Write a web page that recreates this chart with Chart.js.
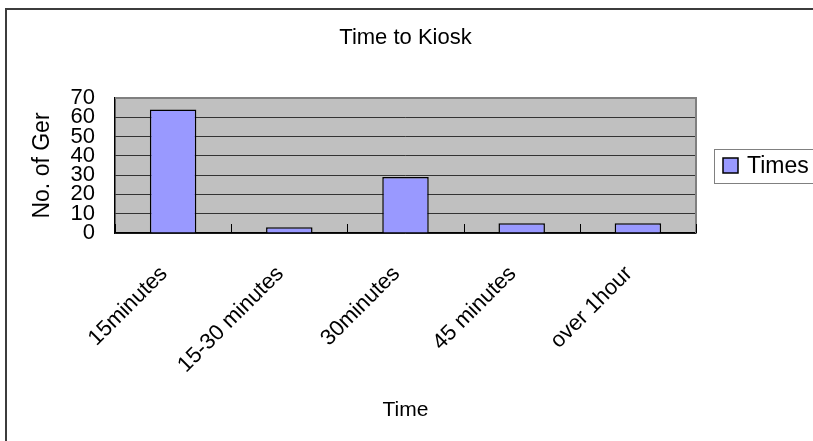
<!DOCTYPE html>
<html>
<head>
<meta charset="utf-8">
<title>Time to Kiosk</title>
<script src="https://cdn.jsdelivr.net/npm/chart.js@4/dist/chart.umd.min.js"></script>
<style>
  html, body { margin: 0; padding: 0; background: #fff; overflow: hidden; }
  #frame {
    position: absolute; left: 5px; top: 8px; width: 900px; height: 500px;
    border-left: 2px solid #3c3c3c; border-top: 2px solid #3c3c3c;
  }
  #wrap { position: absolute; left: 0; top: 0; width: 813px; height: 441px; }
</style>
</head>
<body>
<div id="frame"></div>
<div id="wrap"><canvas id="chart" width="813" height="441"></canvas></div>
<script>
// Travel time from each ger to the kiosk
const categories = ['15minutes', '15-30 minutes', '30minutes', '45 minutes', 'over 1hour'];
const times = [64, 3, 29, 5, 5];
const yTicks = [0, 10, 20, 30, 40, 50, 60, 70];

const FONT = '"Liberation Sans", Arial, sans-serif';

// Grey plot background, grey top/right edge, inside tick marks and boxed legend
const excelStyle = {
  id: 'excelStyle',
  beforeDraw(chart) {
    const { ctx, chartArea: a } = chart;
    ctx.save();
    ctx.fillStyle = '#c0c0c0';
    ctx.fillRect(a.left, a.top, a.width, a.height);
    ctx.restore();
  },
  afterDatasetsDraw(chart) {
    const { ctx, chartArea: a } = chart;
    const x = chart.scales.x;
    ctx.save();
    ctx.strokeStyle = '#808080';
    ctx.lineWidth = 2;
    ctx.beginPath();
    ctx.moveTo(a.left, a.top);
    ctx.lineTo(a.right, a.top);
    ctx.lineTo(a.right, a.bottom);
    ctx.stroke();
    ctx.strokeStyle = '#000';
    ctx.lineWidth = 1;
    ctx.beginPath();
    for (let i = 0; i <= categories.length; i++) {
      const px = Math.round(x.getPixelForValue(i - 0.5)) + 0.5;
      ctx.moveTo(px, a.bottom);
      ctx.lineTo(px, a.bottom - 9);
    }
    ctx.stroke();
    ctx.restore();
  },
  afterDraw(chart) {
    const { ctx, chartArea: a } = chart;
    const ds = chart.data.datasets[0];
    const x0 = Math.round(a.right + 18);
    const yc = Math.round((a.top + a.bottom) / 2);
    const h = 34;
    ctx.save();
    ctx.strokeStyle = '#808080';
    ctx.lineWidth = 1;
    ctx.strokeRect(x0 + 0.5, yc - h / 2 + 0.5, 140, h);
    ctx.fillStyle = ds.backgroundColor;
    ctx.fillRect(x0 + 9, yc - 8, 15, 15);
    ctx.strokeStyle = '#000';
    ctx.lineWidth = 1.5;
    ctx.strokeRect(x0 + 9, yc - 8, 15, 15);
    ctx.fillStyle = '#000';
    ctx.font = '23px ' + FONT;
    ctx.textBaseline = 'middle';
    ctx.textAlign = 'left';
    ctx.fillText(ds.label, x0 + 33, yc + 1);
    ctx.restore();
  }
};

new Chart(document.getElementById('chart'), {
  type: 'bar',
  data: {
    labels: categories,
    datasets: [{
      label: 'Times',
      data: times,
      backgroundColor: '#9999ff',
      borderColor: '#000',
      borderWidth: 1.5,
      borderSkipped: 'bottom',
      categoryPercentage: 1,
      barPercentage: 0.4
    }]
  },
  options: {
    responsive: false,
    animation: false,
    devicePixelRatio: 1,
    layout: { padding: { top: 12, left: 20, right: 117, bottom: 10 } },
    plugins: {
      legend: { display: false },
      tooltip: { enabled: false },
      title: {
        display: true,
        fullSize: false,
        text: 'Time to Kiosk',
        color: '#000',
        font: { family: FONT, size: 22, weight: 'normal' },
        padding: { top: 13, bottom: 46.6 }
      }
    },
    scales: {
      x: {
        offset: true,
        grid: { display: false },
        border: { display: true, color: '#000', width: 1.5 },
        ticks: {
          color: '#000',
          font: { family: FONT, size: 22 },
          minRotation: 45,
          maxRotation: 45,
          padding: 20,
          labelOffset: -9,
          autoSkip: false
        },
        title: {
          display: true,
          text: 'Time',
          color: '#000',
          font: { family: FONT, size: 21 },
          padding: { top: 0, bottom: 8.4 }
        },
        afterFit(scale) { scale.height = 198; }
      },
      y: {
        min: yTicks[0],
        max: yTicks[yTicks.length - 1],
        afterBuildTicks(scale) { scale.ticks = yTicks.map(v => ({ value: v })); },
        grid: { color: '#333', lineWidth: 1, drawTicks: false },
        border: { display: true, color: '#000', width: 1.5 },
        ticks: {
          color: '#000',
          font: { family: FONT, size: 22, lineHeight: 1 },
          padding: 20,
          autoSkip: false
        },
        title: {
          display: true,
          text: 'No. of Ger',
          color: '#000',
          font: { family: FONT, size: 23 },
          padding: { top: 9, bottom: 0 }
        },
        afterFit(scale) { scale.width = 95; }
      }
    }
  },
  plugins: [excelStyle]
});
</script>
</body>
</html>
